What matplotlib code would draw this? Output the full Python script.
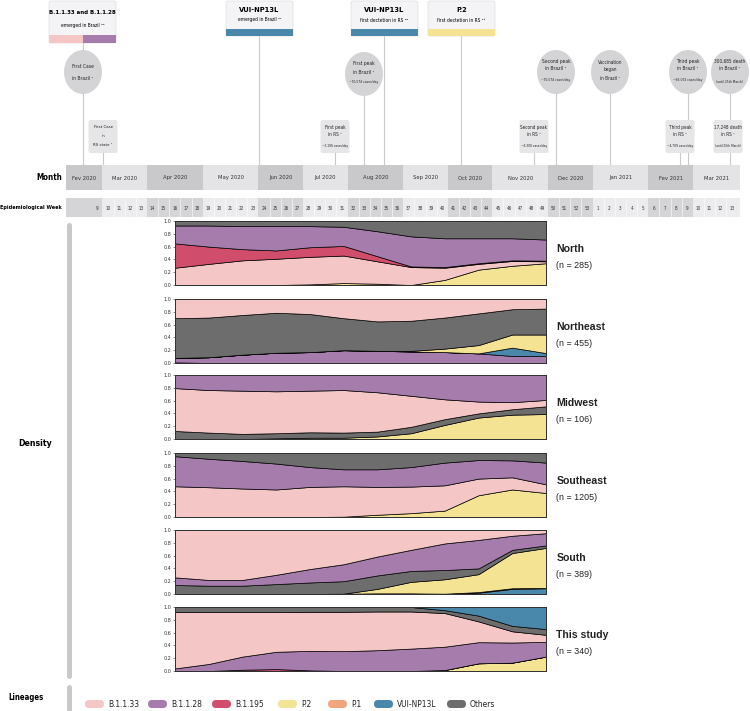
import numpy as np
import matplotlib.pyplot as plt
from matplotlib.patches import FancyBboxPatch, Ellipse, Rectangle

W, H = 750, 711
NARROW = dict(family='DejaVu Sans', fontstretch='condensed')
SANS = ['Liberation Sans', 'DejaVu Sans']

# timeline (months and epidemiological weeks)
months = ['Fev 2020', 'Mar 2020', 'Apr 2020', 'May 2020', 'Jun 2020', 'Jul 2020', 'Aug 2020',
          'Sep 2020', 'Oct 2020', 'Nov 2020', 'Dec 2020', 'Jan 2021', 'Fev 2021', 'Mar 2021']
month_weeks = [[9], [10, 11, 12, 13], [14, 15, 16, 17, 18], [19, 20, 21, 22, 23],
               [24, 25, 26, 27], [28, 29, 30, 31], [32, 33, 34, 35, 36], [37, 38, 39, 40],
               [41, 42, 43, 44], [45, 46, 47, 48, 49], [50, 51, 52, 53], [1, 2, 3, 4, 5],
               [6, 7, 8, 9], [10, 11, 12, 13]]

# density data: share of each lineage per epidemiological week (2020), bottom to top
weeks = [16, 19, 22, 25, 28, 31, 34, 37, 40, 43, 46, 49]

north = {
    'P.2':      [0, 0, 0, 0, 0.01, 0.03, 0.02, 0, 0.08, 0.24, 0.30, 0.34],
    'B.1.1.33': [0.27, 0.33, 0.385, 0.41, 0.43, 0.43, 0.35, 0.28, 0.19, 0.09, 0.075, 0.03],
    'B.1.195':  [0.38, 0.27, 0.175, 0.13, 0.15, 0.15, 0.08, 0.01, 0.01, 0.01, 0.01, 0.01],
    'B.1.1.28': [0.28, 0.33, 0.36, 0.38, 0.33, 0.30, 0.39, 0.47, 0.45, 0.39, 0.345, 0.33],
    'Others':   [0.07, 0.07, 0.08, 0.08, 0.08, 0.09, 0.16, 0.24, 0.27, 0.27, 0.27, 0.29],
}
northeast = {
    'B.1.195':   [0.01, 0, 0, 0, 0, 0, 0, 0, 0, 0, 0, 0],
    'B.1.1.28':  [0.07, 0.09, 0.13, 0.16, 0.17, 0.20, 0.19, 0.18, 0.17, 0.15, 0.11, 0.11],
    'VUI-NP13L': [0, 0, 0, 0, 0, 0, 0, 0, 0, 0, 0.13, 0.045],
    'P.2':       [0, 0, 0, 0, 0, 0, 0, 0.01, 0.055, 0.13, 0.205, 0.29],
    'Others':    [0.62, 0.62, 0.62, 0.625, 0.595, 0.50, 0.46, 0.47, 0.485, 0.495, 0.395, 0.405],
    'B.1.1.33':  [0.30, 0.29, 0.25, 0.215, 0.235, 0.30, 0.35, 0.34, 0.29, 0.225, 0.16, 0.15],
}
midwest = {
    'P.2':      [0, 0, 0, 0.01, 0.02, 0.02, 0.04, 0.09, 0.22, 0.335, 0.38, 0.39],
    'Others':   [0.125, 0.10, 0.08, 0.08, 0.085, 0.08, 0.075, 0.10, 0.09, 0.065, 0.085, 0.12],
    'B.1.1.33': [0.67, 0.665, 0.675, 0.655, 0.65, 0.665, 0.615, 0.485, 0.31, 0.185, 0.11, 0.10],
    'B.1.1.28': [0.205, 0.235, 0.245, 0.255, 0.245, 0.235, 0.27, 0.325, 0.38, 0.415, 0.425, 0.39],
}
southeast = {
    'P.2':      [0, 0, 0, 0, 0, 0.005, 0.035, 0.06, 0.10, 0.34, 0.43, 0.375],
    'B.1.1.33': [0.48, 0.465, 0.445, 0.43, 0.47, 0.475, 0.435, 0.415, 0.395, 0.26, 0.19, 0.135],
    'B.1.1.28': [0.47, 0.445, 0.43, 0.405, 0.31, 0.265, 0.275, 0.305, 0.355, 0.29, 0.265, 0.34],
    'Others':   [0.05, 0.09, 0.125, 0.165, 0.22, 0.255, 0.255, 0.22, 0.15, 0.11, 0.115, 0.15],
}
south = {
    'VUI-NP13L': [0, 0, 0, 0, 0, 0.005, 0.01, 0.01, 0.005, 0.02, 0.08, 0.09],
    'P.1':       [0, 0, 0, 0, 0, 0, 0, 0, 0, 0.01, 0.01, 0.005],
    'P.2':       [0, 0, 0, 0, 0, 0, 0.07, 0.18, 0.225, 0.28, 0.55, 0.625],
    'Others':    [0.14, 0.13, 0.13, 0.155, 0.18, 0.195, 0.21, 0.17, 0.145, 0.09, 0.05, 0.04],
    'B.1.1.28':  [0.12, 0.09, 0.09, 0.145, 0.21, 0.265, 0.295, 0.33, 0.415, 0.445, 0.22, 0.19],
    'B.1.1.33':  [0.74, 0.78, 0.78, 0.70, 0.61, 0.535, 0.415, 0.31, 0.21, 0.155, 0.09, 0.05],
}
this_study = {
    'P.2':       [0, 0, 0, 0, 0, 0, 0, 0, 0.015, 0.12, 0.13, 0.225],
    'B.1.195':   [0, 0, 0.02, 0.03, 0.01, 0, 0, 0, 0, 0, 0, 0],
    'B.1.1.28':  [0.04, 0.11, 0.205, 0.27, 0.305, 0.31, 0.325, 0.35, 0.365, 0.33, 0.315, 0.23],
    'B.1.1.33':  [0.88, 0.81, 0.695, 0.62, 0.61, 0.615, 0.605, 0.58, 0.525, 0.325, 0.175, 0.11],
    'Others':    [0.08, 0.08, 0.08, 0.08, 0.075, 0.075, 0.07, 0.07, 0.045, 0.09, 0.085, 0.09],
    'VUI-NP13L': [0, 0, 0, 0, 0, 0, 0, 0, 0.05, 0.135, 0.295, 0.345],
}

regions = ['North', 'Northeast', 'Midwest', 'Southeast', 'South', 'This study']
region_n = [285, 455, 106, 1205, 389, 340]
region_data = [north, northeast, midwest, southeast, south, this_study]

lineages = ['B.1.1.33', 'B.1.1.28', 'B.1.195', 'P.2', 'P.1', 'VUI-NP13L', 'Others']
lineage_colors = ['#f4c6c6', '#a57cac', '#d14d6c', '#f5e394', '#f1a47e', '#4a88ab', '#6d6d6d']
col = dict(zip(lineages, lineage_colors))

fig = plt.figure(figsize=(7.5, 7.11), dpi=100)


def px_axes(x0, y0, x1, y1, **kw):
    return fig.add_axes([x0 / W, 1 - y1 / H, (x1 - x0) / W, (y1 - y0) / H], **kw)


# overlay in pixel units for the annotation layer
ov = px_axes(0, 0, W, H)
ov.set_xlim(0, W)
ov.set_ylim(H, 0)
ov.axis('off')

LINE = '#c9c9cc'
# event lines
for x, y0 in [(83, 43), (103, 153), (259, 36), (335, 153), (364, 96), (384, 36), (461, 36),
              (534, 153), (556, 94), (610, 94), (680, 153), (688, 94), (730, 94)]:
    ov.plot([x, x], [y0, 165], color=LINE, lw=0.8, zorder=1)


def header_box(x0, x1, y1, bar_h, colors, title, sub, ty, sy, tsize=5.4):
    ov.add_patch(FancyBboxPatch((x0, 1), x1 - x0, y1 - 1, boxstyle='round,pad=0,rounding_size=2',
                                fc='#f4f4f6', ec='#dedee0', lw=0.5, zorder=2))
    seg = (x1 - x0) / len(colors)
    for i, c in enumerate(colors):
        ov.add_patch(Rectangle((x0 + i * seg, y1 - bar_h), seg, bar_h, fc=c, ec='none', zorder=3))
    cx = (x0 + x1) / 2
    ov.text(cx, ty, title, ha='center', va='center', fontsize=tsize, weight='bold', zorder=4, **NARROW)
    ov.text(cx, sy, sub, ha='center', va='center', fontsize=3.5, zorder=4, **NARROW)


header_box(49, 116, 43, 8, [col['B.1.1.33'], col['B.1.1.28']], 'B.1.1.33 and B.1.1.28',
           'emerged in Brazil ²⁰', 13, 26, tsize=4.4)
header_box(226, 293, 36, 7, [col['VUI-NP13L']], 'VUI-NP13L', 'emerged in Brazil ²¹', 10, 20)
header_box(351, 418, 36, 7, [col['VUI-NP13L']], 'VUI-NP13L', 'first dectetion in RS ²²', 10, 20)
header_box(428, 495, 36, 7, [col['P.2']], 'P.2', 'first dectetion in RS ²³', 10, 20)


def bubble(cx, cy, lines, big=True):
    if big:
        ov.add_patch(Ellipse((cx, cy), 38, 44, fc='#d4d4d6', ec='none', zorder=2))
    else:
        ov.add_patch(FancyBboxPatch((cx - 14.5, 120), 29, 33, boxstyle='round,pad=0,rounding_size=2',
                                    fc='#e6e6e8', ec='none', zorder=2))
    for (y, s, fs) in lines:
        ov.text(cx, y, s, ha='center', va='center', fontsize=fs, color='#222', zorder=4, **NARROW)


bubble(83, 72, [(66, 'First Case', 3.6), (78, 'in Brazil ¹', 3.6)])
bubble(364, 74, [(64, 'First peak', 3.6), (72, 'in Brazil ¹', 3.6), (82, '~70,574 cases/day', 2.4)])
bubble(556, 72, [(61, 'Second peak', 3.6), (69, 'in Brazil ¹', 3.6), (80, '~70,574 cases/day', 2.4)])
bubble(610, 72, [(62, 'Vaccination', 3.4), (70, 'began', 3.4), (78, 'in Brazil ¹', 3.4)])
bubble(688, 72, [(61, 'Third peak', 3.6), (69, 'in Brazil ¹', 3.6), (80, '~66,032 cases/day', 2.4)])
bubble(730, 72, [(61, '300,685 death', 3.4), (69, 'in Brazil ¹', 3.6), (82, '(until 25th March)', 2.4)])
bubble(103, 136, [(127, 'First Case', 3.2), (136, 'in', 3.2), (145, 'RS state ¹', 3.2)], big=False)
bubble(335, 136, [(127, 'First peak', 3.4), (135, 'in RS ¹', 3.4), (146, '~3,196 cases/day', 2.3)], big=False)
bubble(534, 136, [(127, 'Second peak', 3.3), (135, 'in RS ¹', 3.4), (146, '~6,308 cases/day', 2.3)], big=False)
bubble(680, 136, [(127, 'Third peak', 3.4), (135, 'in RS ¹', 3.4), (146, '~4,709 cases/day', 2.3)], big=False)
bubble(728, 136, [(127, '17,248 death', 3.3), (135, 'in RS ¹', 3.4), (146, '(until 25th March)', 2.3)], big=False)

# left labels and gray guides
ov.text(62, 177, 'Month', ha='right', va='center', fontsize=5.8, weight='bold', **NARROW)
ov.text(62, 208, 'Epidemiological Week', ha='right', va='center', fontsize=4.0, weight='bold', **NARROW)
ov.text(35, 444, 'Density', ha='center', va='center', fontsize=6.3, weight='bold', **NARROW)
ov.text(26, 697, 'Lineages', ha='center', va='center', fontsize=5.6, weight='bold', **NARROW)
ov.plot([69, 69], [225, 676], color='#c9c9cc', lw=3.6, solid_capstyle='round')
ov.plot([69, 69], [687, 715], color='#c9c9cc', lw=3.6, solid_capstyle='round')

# timeline axes in week-index units
tl = px_axes(66, 165, 740, 217)
x_left, x_right = -2.77, 57.73
tl.set_xlim(x_left, x_right)
tl.set_ylim(217, 165)
tl.axis('off')
start = 0
for i, (m, wk) in enumerate(zip(months, month_weeks)):
    a = start - 0.5 if i > 0 else x_left
    b = start + len(wk) - 0.5 if i < len(months) - 1 else x_right
    dark = i % 2 == 0
    tl.bar((a + b) / 2, 25, width=b - a, bottom=165, color='#c9c9cc' if dark else '#e4e4e7', lw=0)
    tl.bar((a + b) / 2, 19, width=b - a, bottom=198, color='#d5d5d8' if dark else '#ececee', lw=0)
    tl.text((a + b) / 2, 178, m, ha='center', va='center', fontsize=4.2, color='#333', **NARROW)
    for j, w in enumerate(wk):
        idx = start + j
        tl.text(idx, 208, str(w), ha='center', va='center', fontsize=3.3, color='#333', **NARROW)
        if j > 0:
            tl.plot([idx - 0.5, idx - 0.5], [198, 217], color='white', lw=0.4)
    start += len(wk)

# density panels
tops = [221, 299, 375, 453, 530, 607]
for top, name, n, data in zip(tops, regions, region_n, region_data):
    ax = px_axes(175, top, 546, top + 64)
    keys = list(data.keys())
    ax.stackplot(weeks, *[data[k] for k in keys], colors=[col[k] for k in keys],
                 edgecolor='black', linewidth=0.5)
    ax.set_xlim(weeks[0], weeks[-1])
    ax.set_ylim(0, 1)
    ax.set_xticks([])
    ax.set_yticks(np.arange(0, 1.01, 0.2))
    ax.set_yticklabels(['%.1f' % v for v in np.arange(0, 1.01, 0.2)])
    ax.tick_params(axis='y', labelsize=3.5, length=1.5, width=0.4, pad=1, colors='#333')
    for s in ax.spines.values():
        s.set_linewidth(0.7)
        s.set_color('#333')
    ax.text(1.028, 0.57, name, transform=ax.transAxes, fontsize=7.6, weight='bold',
            family=SANS, color='#222', va='center')
    ax.text(1.028, 0.30, '(n = %d)' % n, transform=ax.transAxes, fontsize=6.4,
            family=SANS, color='#222', va='center')

# legend pills
leg_x = [85, 148, 212, 278, 328, 374, 447]
for x, name, c in zip(leg_x, lineages, lineage_colors):
    ov.add_patch(FancyBboxPatch((x, 700), 19, 8, boxstyle='round,pad=0,rounding_size=4',
                                fc=c, ec='none'))
    ov.text(x + 23, 704.5, name, ha='left', va='center', fontsize=6.0, color='#222', **NARROW)

fig.savefig('out.png', dpi=100)
